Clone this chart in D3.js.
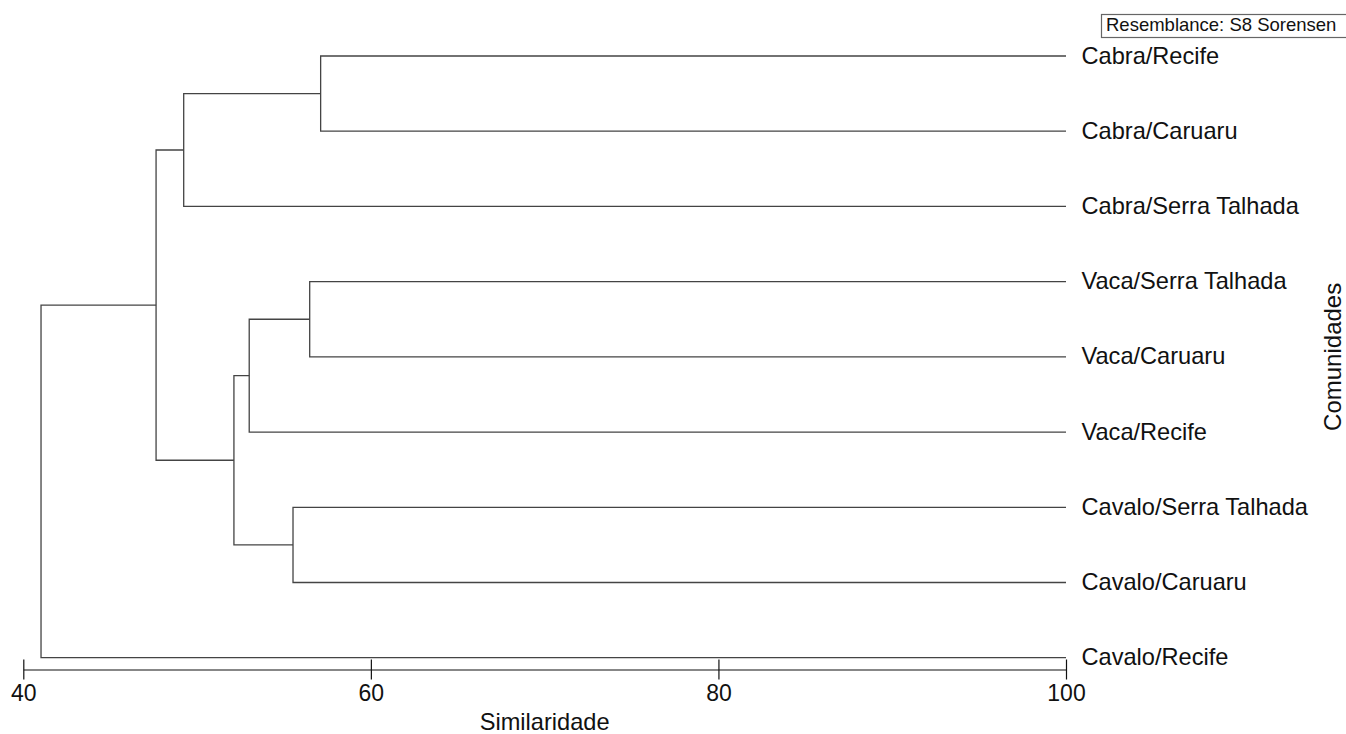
<!DOCTYPE html>
<html>
<head>
<meta charset="utf-8">
<script src="https://cdn.jsdelivr.net/npm/d3@7"></script>
<style>
  html, body { margin: 0; padding: 0; background: #fff; }
  svg { display: block; font-family: "Liberation Sans", Arial, sans-serif; }
</style>
</head>
<body>
<svg id="chart" width="1346" height="734"></svg>
<script>
// Communities, top to bottom as they appear in the dendrogram
const leafNames = [
  "Cabra/Recife", "Cabra/Caruaru", "Cabra/Serra Talhada",
  "Vaca/Serra Talhada", "Vaca/Caruaru", "Vaca/Recife",
  "Cavalo/Serra Talhada", "Cavalo/Caruaru", "Cavalo/Recife"
];

// Agglomeration steps (hclust style): negative = leaf (1-based), positive = earlier step
const mergePairs = [
  [-1, -2], [-4, -5], [-7, -8], [2, -6],
  [4, 3], [1, -3], [6, 5], [7, -9]
];
// Similarity (%) at which each step joins
const mergeSimilarity = [57.11, 56.48, 55.52, 53.00, 52.12, 49.23, 47.64, 41.02];

const axisTicks = [40, 60, 80, 100];

const svg = d3.select("#chart");

const x = d3.scaleLinear().domain([40, 100]).range([23.3, 1066]);
const y = d3.scalePoint().domain(leafNames).range([56, 657.7]);

// Resolve every node to a position: leaves sit at 100 % similarity
const nodes = [];
function nodeRef(id) {
  if (id < 0) {
    const name = leafNames[-id - 1];
    return { x: x(100), y: y(name) };
  }
  return nodes[id - 1];
}
mergePairs.forEach((pair, i) => {
  const a = nodeRef(pair[0]);
  const b = nodeRef(pair[1]);
  const nx = x(mergeSimilarity[i]);
  nodes.push({ x: nx, y: (a.y + b.y) / 2, a, b });
});

const link = svg.append("g")
  .attr("fill", "none")
  .attr("stroke", "#444")
  .attr("stroke-width", 1.3);

link.selectAll("path")
  .data(nodes)
  .join("path")
  .attr("d", d =>
    `M${d.a.x},${d.a.y}H${d.x}V${d.b.y}H${d.b.x}`);

// Leaf labels
svg.append("g")
  .selectAll("text")
  .data(leafNames)
  .join("text")
  .attr("x", 1081.5)
  .attr("y", d => y(d) + 7.5)
  .attr("font-size", 23.6)
  .attr("fill", "#111")
  .text(d => d);

// Similarity axis
const axisY = 669.5;
const axis = svg.append("g")
  .attr("transform", `translate(0,${axisY})`)
  .call(d3.axisBottom(x).tickValues(axisTicks).tickSizeOuter(0).tickSizeInner(10));

axis.select(".domain").attr("stroke", "#111").attr("stroke-width", 1.2);
axis.selectAll(".tick line")
  .attr("y1", -10).attr("y2", 10)
  .attr("stroke", "#111").attr("stroke-width", 1.2);
axis.selectAll(".tick text")
  .attr("y", 31.5).attr("dy", 0)
  .attr("font-size", 23)
  .attr("font-family", "Liberation Sans, Arial, sans-serif")
  .attr("fill", "#111");

svg.append("text")
  .attr("x", (x.range()[0] + x.range()[1]) / 2)
  .attr("y", 729.5)
  .attr("text-anchor", "middle")
  .attr("font-size", 23.6)
  .attr("fill", "#111")
  .text("Similaridade");

svg.append("text")
  .attr("transform", `translate(1341,${(y.range()[0] + y.range()[1]) / 2}) rotate(-90)`)
  .attr("text-anchor", "middle")
  .attr("font-size", 24)
  .attr("fill", "#111")
  .text("Comunidades");

// Resemblance note
const note = svg.append("g");
note.append("rect")
  .attr("x", 1101.5).attr("y", 14.5)
  .attr("width", 250).attr("height", 23)
  .attr("fill", "#fff")
  .attr("stroke", "#666")
  .attr("stroke-width", 1.2);
note.append("text")
  .attr("x", 1106)
  .attr("y", 31)
  .attr("font-size", 18.5)
  .attr("fill", "#111")
  .text("Resemblance: S8 Sorensen");
</script>
</body>
</html>
